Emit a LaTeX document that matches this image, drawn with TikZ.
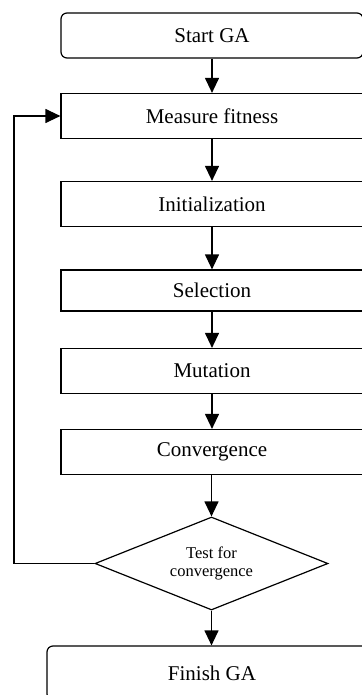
\documentclass[tikz,border=0pt]{standalone}
\usepackage{fontspec}
\setmainfont{Liberation Serif}
\usetikzlibrary{arrows.meta,positioning,shapes.geometric}

\begin{document}
\begin{tikzpicture}[x=1pt,y=-1pt]

	\tikzstyle{block} = [rectangle, draw, line width=1.2pt, inner sep=0pt,
    		minimum width=302pt, minimum height=45pt, font=\fontsize{21}{24}\selectfont]
	\tikzstyle{terminal} = [block, rounded corners=6pt]
	\tikzstyle{decision} = [diamond, draw, line width=1.2pt, inner sep=0pt, aspect=2.5,
    		minimum width=233pt, minimum height=93pt, align=center,
    		font=\fontsize{16.5}{17.5}\selectfont]
	\tikzstyle{line} = [draw, line width=1.2pt, -{Triangle[length=15pt,width=14pt]}]

    \useasboundingbox (0,0) rectangle (361,695);

    % Place nodes
    \node [terminal] at (212, 35.5) (start) {Start GA};
    \node [block] at (212, 116) (measure) {Measure fitness};
    \node [block] at (212, 204) (init) {Initialization};
    \node [block, minimum height=41pt] at (212, 290.5) (selection) {Selection};
    \node [block] at (212, 371) (mutation) {Mutation};
    \node [block] at (212, 452) (convergence) {Convergence};
    \node [decision] at (211.5, 563.5) (test) {Test for\\convergence};
    \node [terminal, minimum width=330pt, minimum height=54pt] at (212, 673) (finish) {Finish GA};

    \coordinate (loop) at (14, 116);

    % Draw edges
    \path [line] (start) -- (measure);
    \path [line] (measure) -- (init);
    \path [line] (init) -- (selection);
    \path [line] (selection) -- (mutation);
    \path [line] (mutation) -- (convergence);
    \path [line] (convergence.south -| test.north) -- (test.north);
    \path [line] (test.south) -- (test.south |- finish.north);
    \path [line] (test.west) -- (test.west -| loop) -- (loop) -- (measure.west);
\end{tikzpicture}
\end{document}
